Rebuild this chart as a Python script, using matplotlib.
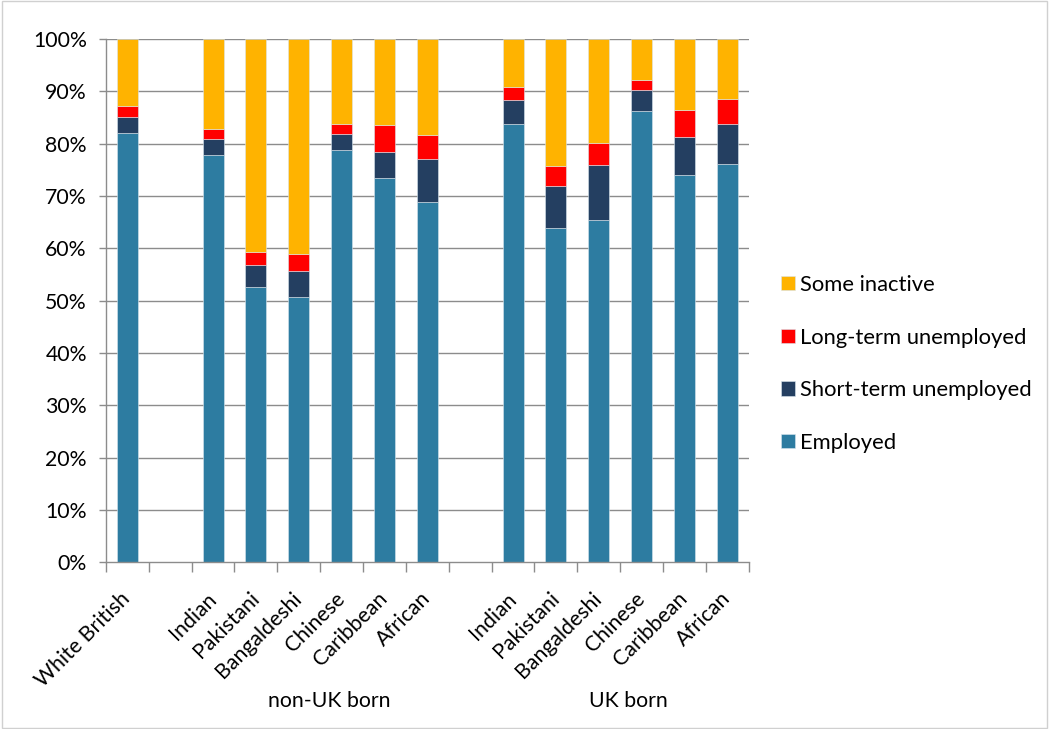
import numpy as np
import matplotlib.pyplot as plt
from matplotlib.patches import Rectangle

plt.rcParams['font.family'] = ['Lato', 'DejaVu Sans']

# Groups of ethnic categories (a blank slot separates each group)
groups = ["", "non-UK born", "UK born"]
group_cats = [
    ["White British"],
    ["Indian", "Pakistani", "Bangaldeshi", "Chinese", "Caribbean", "African"],
    ["Indian", "Pakistani", "Bangaldeshi", "Chinese", "Caribbean", "African"],
]

# Percent of each group, in stack order from the bottom
employed = [82.0, 77.8, 52.7, 50.7, 78.7, 73.4, 68.9, 83.8, 63.8, 65.4, 86.3, 74.0, 76.1]
short_term = [3.0, 3.0, 4.2, 5.0, 3.1, 5.1, 8.1, 4.6, 8.2, 10.6, 4.0, 7.2, 7.7]
long_term = [2.2, 2.0, 2.3, 3.2, 2.0, 5.0, 4.7, 2.4, 3.7, 4.1, 1.9, 5.3, 4.7]
inactive = [12.8, 17.2, 40.8, 41.1, 16.2, 16.5, 18.3, 9.2, 24.3, 19.9, 7.8, 13.5, 11.5]

series = [
    ("Employed", employed, "#2d7ca1"),
    ("Short-term unemployed", short_term, "#243f61"),
    ("Long-term unemployed", long_term, "#ff0000"),
    ("Some inactive", inactive, "#ffb300"),
]

# x positions: one empty slot between groups
positions, labels, group_centres = [], [], []
x = 0
for gi, cats in enumerate(group_cats):
    start = x
    for c in cats:
        positions.append(x)
        labels.append(c)
        x += 1
    group_centres.append((start + x - 1) / 2)
    x += 1
n_slots = x - 1

fs = 15.3

fig = plt.figure(figsize=(10.49, 7.29), dpi=100)
ax = fig.add_axes([0.101, 0.2287, 0.6127, 0.7178])

grid_col = "#8c8c8c"
for v in range(10, 101, 10):
    ax.axhline(v, color=grid_col, lw=1.0, zorder=0)

bottom = np.zeros(len(positions))
handles = []
for name, vals, col in series:
    vals = np.array(vals)
    b = ax.bar(positions, vals, bottom=bottom, width=0.49, color=col,
               edgecolor="#d9e6ee", linewidth=0.4, label=name, zorder=2)
    handles.append(b)
    bottom += vals

ax.set_xlim(-0.5, n_slots - 0.5)
ax.set_ylim(0, 100)

ax.set_yticks(range(0, 101, 10))
ax.set_yticklabels([f"{v}%" for v in range(0, 101, 10)], fontsize=fs)
ax.tick_params(axis="y", length=5.3, color=grid_col, width=1, pad=8.5)

ax.set_xticks(positions)
ax.set_xticklabels(labels, rotation=45, ha="right", va="center",
                   rotation_mode="anchor", fontsize=fs)
ax.tick_params(axis="x", which="major", length=0, pad=24)
ax.set_xticks(np.arange(-0.5, n_slots, 1.0), minor=True)
ax.tick_params(axis="x", which="minor", length=7, color=grid_col, width=1)

for side in ("top", "right"):
    ax.spines[side].set_visible(False)
for side in ("left", "bottom"):
    ax.spines[side].set_color(grid_col)
    ax.spines[side].set_linewidth(1.0)

for name, cx in zip(groups, group_centres):
    if name:
        ax.text(cx + 0.2, -0.265, name, transform=ax.get_xaxis_transform(),
                ha="center", va="center", fontsize=fs)

leg = ax.legend(handles[::-1], [s[0] for s in series][::-1],
                loc="center left", bbox_to_anchor=(1.020, 0.379),
                frameon=False, fontsize=15.8, handlelength=0.62,
                handleheight=0.62, handletextpad=0.25, labelspacing=1.49)

# chart area border
fig.patches.append(Rectangle((0.002, 0.002), 0.996, 0.996, transform=fig.transFigure,
                             fill=False, edgecolor="#d0d0d0", lw=1))

fig.savefig("out.png", dpi=100)
